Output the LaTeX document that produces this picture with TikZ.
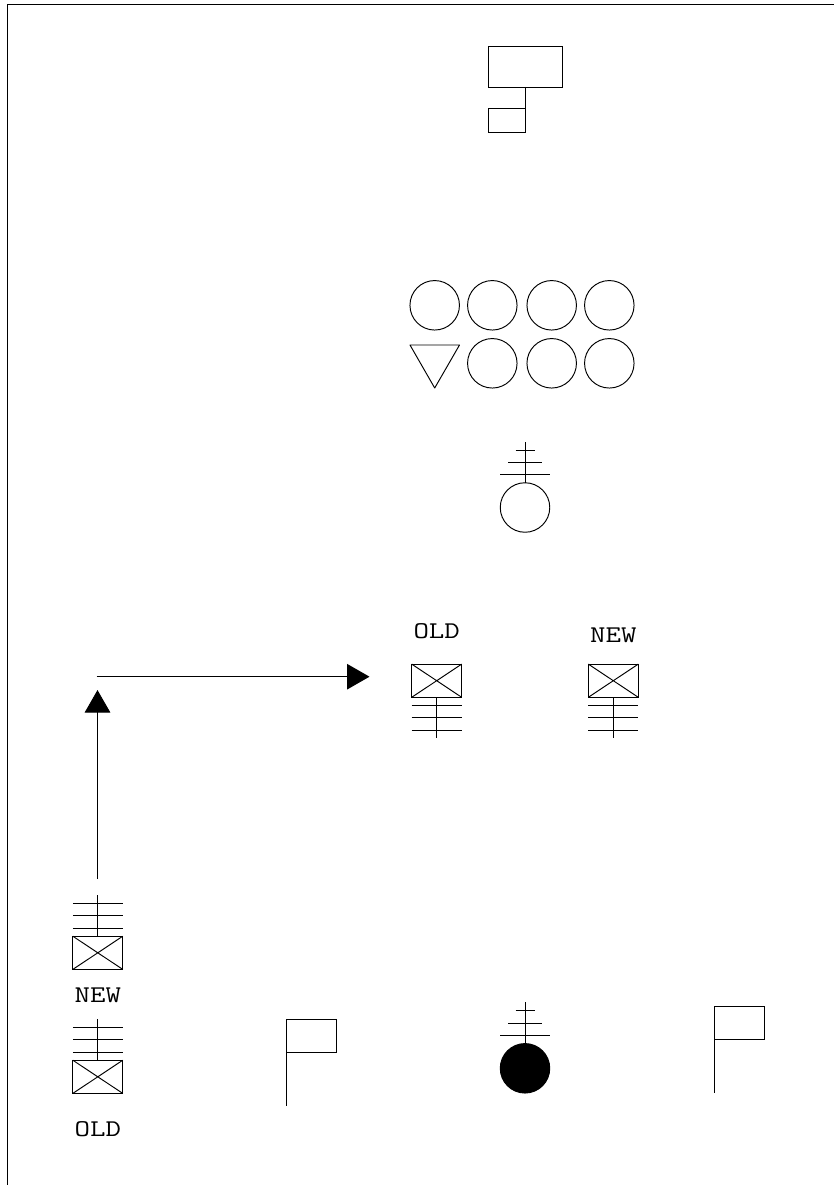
\documentclass[tikz,border=0pt]{standalone}
\usetikzlibrary{arrows.meta}
\tikzset{
  every node/.style={outer sep=0pt,inner sep=0pt},
  ln/.style={line width=0.95pt,draw=black},
  circ/.style={ln,circle,minimum size=49.5pt},
  xbox/.style={ln,minimum width=50pt,minimum height=33.2pt},
  lbl/.style={font=\fontsize{24}{24}\ttfamily},
  bigarrow/.style={ln,-{Triangle[length=22.5pt,width=25.5pt]}}
}
\newcommand{\lab}[4]{\node[lbl] (#1) at (#2,#3) {\scalebox{1.25}[1]{#4}};}
\newcommand{\crossed}[1]{\draw[ln] (#1.north west) -- (#1.south east) (#1.north east) -- (#1.south west);}
\newcommand{\rack}[3]{\draw[ln] (#1-25,#2) -- (#1+25,#2) (#1-25,#2+#3) -- (#1+25,#2+#3) (#1-25,#2+2*#3) -- (#1+25,#2+2*#3);}
\newcommand{\taper}[2]{\draw[ln] (#1-9.5,#2) -- (#1+9.5,#2) (#1-17,#2+12.3) -- (#1+17,#2+12.3) (#1-25,#2+24.7) -- (#1+25,#2+24.7);}
\begin{document}
\begin{tikzpicture}[x=1pt,y=-1pt]
\useasboundingbox (0,0) rectangle (834,1185);
\fill[white] (0,0) rectangle (834,1185);
% frame
\coordinate (fa) at (7.5,1185);
\coordinate (fb) at (7.5,4.7);
\coordinate (fc) at (834,4.7);
\draw[ln] (fa) -- (fb) -- (fc);
% top boxes
\node[ln,minimum width=74pt,minimum height=41pt] (big) at (525,66.5) {};
\node[ln,minimum width=37pt,minimum height=24pt] (small) at (506.5,120) {};
\draw[ln] (big.south) -- (small.north east);
% circle grid
\node[circ] (c1) at (434.7,305.3) {};
\node[circ] (c2) at (492.3,305.3) {};
\node[circ] (c3) at (551.7,305.3) {};
\node[circ] (c4) at (609.3,305.3) {};
\coordinate (t1) at (410,345);
\coordinate (t2) at (459.5,345);
\coordinate (t3) at (434.7,388);
\draw[ln,line join=round] (t1) -- (t2) -- (t3) -- cycle;
\node[circ] (c6) at (492.3,363.3) {};
\node[circ] (c7) at (551.7,363.3) {};
\node[circ] (c8) at (609.3,363.3) {};
% open circle with tapered rack
\node[circ] (oc) at (525,507.5) {};
\coordinate (octop) at (525,441.7);
\draw[ln] (oc.north) -- (octop);
\taper{525}{450}
% filled circle with tapered rack
\node[circ,fill=black] (fc1) at (525,1068.3) {};
\coordinate (fctop) at (525,1002.3);
\draw[ln] (fc1.north) -- (fctop);
\taper{525}{1010.7}
% OLD / NEW upper
\lab{l1}{436.7}{631}{OLD}
\lab{l2}{613.3}{635}{NEW}
\node[xbox] (b1) at (436.7,680.7) {};
\crossed{b1}
\coordinate (b1e) at (436.7,738.3);
\draw[ln] (b1.south) -- (b1e);
\rack{436.7}{705.3}{12.35}
\node[xbox] (b2) at (613.3,680.7) {};
\crossed{b2}
\coordinate (b2e) at (613.3,738.3);
\draw[ln] (b2.south) -- (b2e);
\rack{613.3}{705.3}{12.35}
% left stack
\node[xbox] (b3) at (97.8,952.8) {};
\crossed{b3}
\coordinate (b3e) at (97.8,895);
\draw[ln] (b3.north) -- (b3e);
\rack{97.8}{903.3}{12.5}
\lab{l3}{97.8}{995}{NEW}
\node[xbox] (b4) at (97.8,1076.8) {};
\crossed{b4}
\coordinate (b4e) at (97.8,1019);
\draw[ln] (b4.north) -- (b4e);
\rack{97.8}{1027}{12.5}
\lab{l4}{97.8}{1129}{OLD}
% flags
\node[ln,minimum width=49.6pt,minimum height=33pt] (f1) at (311.5,1035.5) {};
\coordinate (f1e) at (286.7,1105.7);
\draw[ln] (f1.south west) -- (f1e);
\node[ln,minimum width=50pt,minimum height=33.4pt] (f2) at (739,1023) {};
\coordinate (f2e) at (714,1093.3);
\draw[ln] (f2.south west) -- (f2e);
% arrows
\coordinate (a1) at (97.5,879);
\coordinate (a2) at (97.5,690);
\coordinate (a3) at (96.7,676.7);
\coordinate (a4) at (369.5,676.7);
\draw[bigarrow] (a1) -- (a2);
\draw[bigarrow] (a3) -- (a4);
\end{tikzpicture}
\end{document}
